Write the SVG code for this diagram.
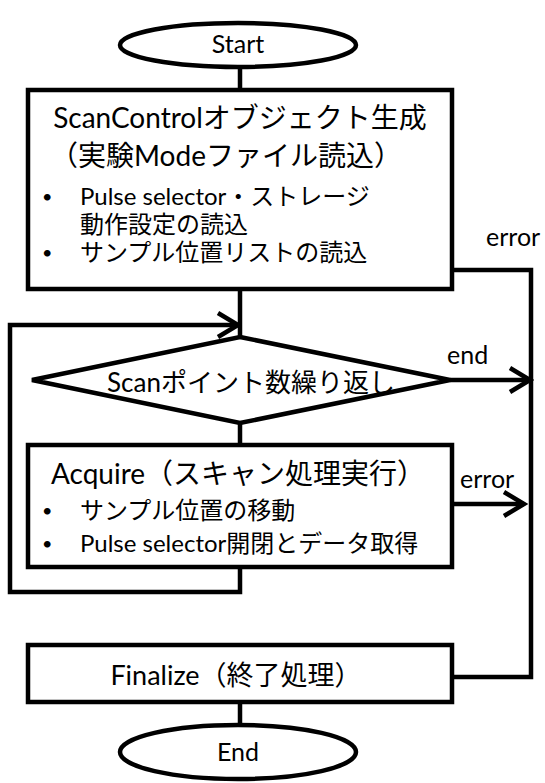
<svg xmlns="http://www.w3.org/2000/svg" width="545" height="783" viewBox="0 0 545 783">
<style>
.s{fill:#fff;stroke:#000;stroke-width:4.5}
.c{fill:none;stroke:#000;stroke-width:4.5}
text{font-family:Lato,"Noto Sans CJK JP",sans-serif;fill:#000}
.t{font-size:28px}
.b{font-size:24px}
.l{font-size:25px}
.d{font-size:18px}
.m{text-anchor:middle}
</style>
<defs>
<marker id="arr" markerUnits="userSpaceOnUse" markerWidth="26" markerHeight="30" viewBox="-2 -3 26 30" refX="20" refY="12" orient="auto">
<path d="M0,0 L20,12 L0,24" fill="none" stroke="#000" stroke-width="4.5"/>
</marker>
</defs>
<g id="connectors">
<path class="c" d="M240,67 V90"/>
<path class="c" d="M240,289 V337"/>
<path class="c" d="M240,567 V592 H10 V325 H238" marker-end="url(#arr)"/>
<path class="c" d="M240,423 V445"/>
<path class="c" d="M452,270 H531 V677 H452"/>
<path class="c" d="M450,380 H530" marker-end="url(#arr)"/>
<path class="c" d="M452,504 H524" marker-end="url(#arr)"/>
<path class="c" d="M240,702 V724"/>
<text class="l" x="486" y="246">error</text>
<text class="l" x="447" y="364">end</text>
<text class="l" x="460" y="488">error</text>
</g>
<g id="start">
<ellipse class="s" cx="238" cy="45" rx="118" ry="22"/>
<text class="l m" x="238" y="53">Start</text>
</g>
<g id="init">
<rect class="s" x="28" y="90" width="424" height="199"/>
<text class="t m" x="240" y="128">ScanControlオブジェクト生成</text>
<text class="t m" x="226" y="166">（実験Modeファイル読込）</text>
<text class="d" x="42" y="203">•</text>
<text class="b" x="80" y="205">Pulse selector・ストレージ</text>
<text class="b" x="80" y="233">動作設定の読込</text>
<text class="d" x="42" y="259">•</text>
<text class="b" x="80" y="261">サンプル位置リストの読込</text>
</g>
<g id="loop">
<polygon class="s" points="240,337 450,380 240,423 32,380"/>
<text class="m" x="251" y="392" style="font-size:26px">Scanポイント数繰り返し</text>
</g>
<g id="acquire">
<rect class="s" x="28" y="445" width="424" height="122"/>
<text class="t m" x="238" y="484">Acquire（スキャン処理実行）</text>
<text class="d" x="42" y="517">•</text>
<text class="b" x="80" y="519">サンプル位置の移動</text>
<text class="d" x="42" y="550">•</text>
<text class="b" x="80" y="552">Pulse selector開閉とデータ取得</text>
</g>
<g id="finalize">
<rect class="s" x="28" y="645" width="424" height="57"/>
<text class="m" x="236" y="685" style="font-size:27px">Finalize（終了処理）</text>
</g>
<g id="end">
<ellipse class="s" cx="238" cy="752" rx="118" ry="27"/>
<text class="l m" x="238" y="761">End</text>
</g>
</svg>
